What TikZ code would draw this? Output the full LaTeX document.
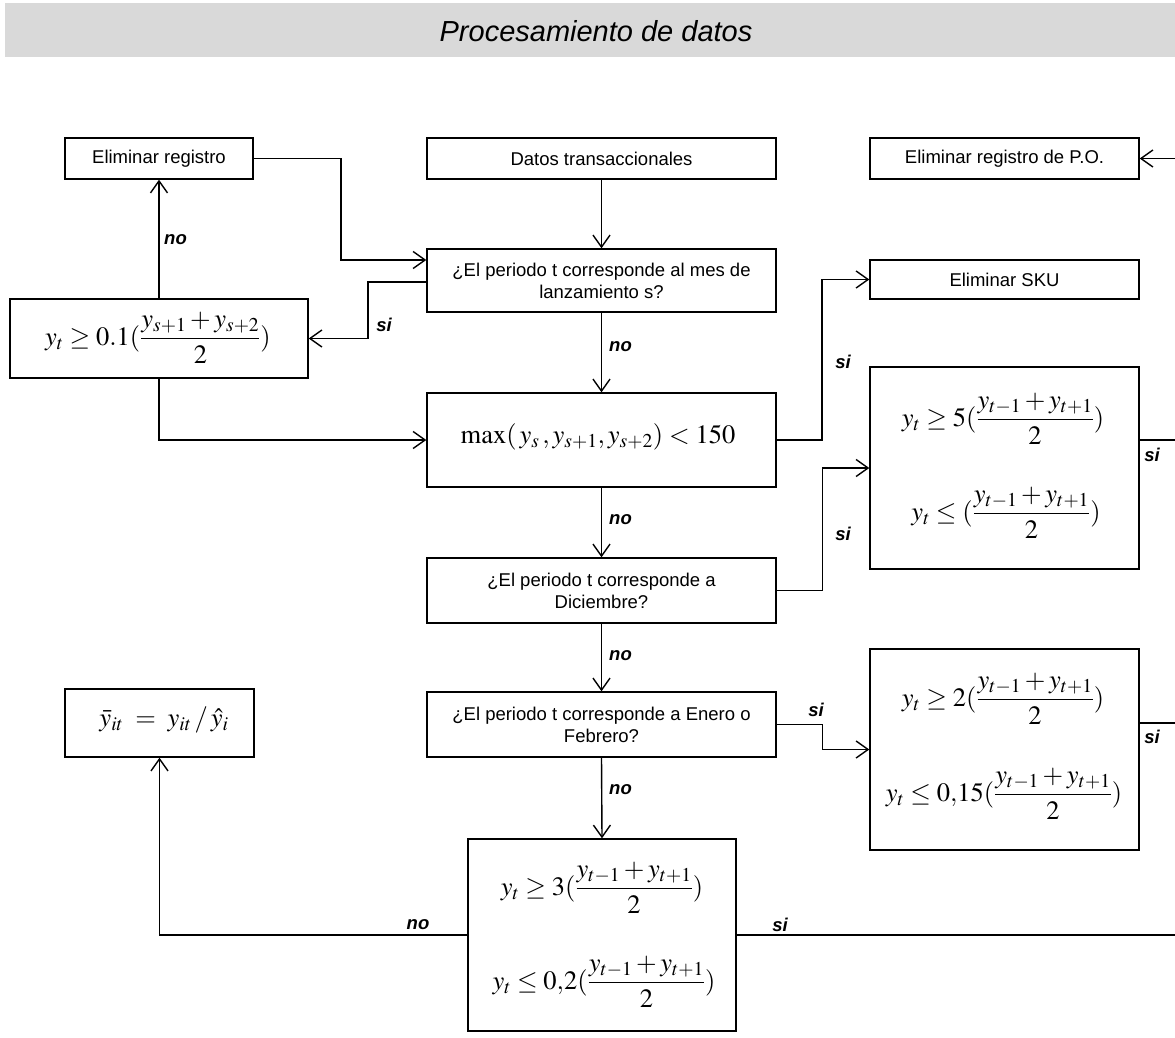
\documentclass[tikz,border=0pt]{standalone}
\usepackage{mathptmx}
\usepackage{amsmath}
\usepackage[no-math]{fontspec}
\setmainfont{Liberation Sans}
\usetikzlibrary{arrows.meta}
\definecolor{hdr}{RGB}{217,217,217}
\tikzset{
  box/.style={draw, line width=1.4pt, inner sep=0pt, align=center, font=\fontsize{18.5}{22}\selectfont},
  arr/.style={line width=1.4pt, -{Straight Barb[length=12pt,width=17pt,line width=1.4pt]}},
  ln/.style={line width=1.4pt},
  lab/.style={font=\fontsize{18.5}{20}\selectfont\bfseries\itshape, inner sep=0pt},
  mth/.style={font=\fontsize{26.5}{30}\selectfont, inner sep=0pt}
}
\begin{document}
\begin{tikzpicture}[x=1pt,y=-1pt]
\useasboundingbox (0,0) rectangle (1175,1038);
% header
\fill[hdr] (5,3) rectangle (1175,57);
\node[font=\fontsize{29}{30}\selectfont\itshape, inner sep=0pt] (title) at (596,31) {Procesamiento de datos};

% boxes
\node[box, minimum width=188pt, minimum height=41pt] (elim) at (159,158.5) {Eliminar registro};
\node[box, minimum width=349pt, minimum height=41pt] (datos) at (601.5,158.5) {Datos transaccionales};
\node[box, minimum width=269pt, minimum height=41pt] (po) at (1004.5,158.5) {Eliminar registro de P.O.};
\node[box, minimum width=349pt, minimum height=63pt] (dec1) at (601.5,280.5) {¿El periodo t corresponde al mes de\\lanzamiento s?};
\node[box, minimum width=298pt, minimum height=79pt] (f1) at (159,338.5) {};
\node[box, minimum width=269pt, minimum height=39pt] (sku) at (1004.5,279.5) {Eliminar SKU};
\node[box, minimum width=349pt, minimum height=94pt] (maxb) at (601.5,440) {};
\node[box, minimum width=269pt, minimum height=202pt] (b5) at (1004.5,468) {};
\node[box, minimum width=349pt, minimum height=65pt] (dic) at (601.5,590.5) {¿El periodo t corresponde a\\Diciembre?};
\node[box, minimum width=349pt, minimum height=65pt] (ene) at (601.5,724.5) {¿El periodo t corresponde a Enero o\\Febrero?};
\node[box, minimum width=269pt, minimum height=201pt] (b6) at (1004.5,749.5) {};
\node[box, minimum width=189pt, minimum height=68pt] (ybar) at (159.5,723) {};
\node[box, minimum width=268pt, minimum height=192pt] (b7) at (602,935) {};

% formulas
\node[mth] (f1m) at (158,338) {$y_t \ge 0.1(\dfrac{y_{s+1}+y_{s+2}}{2})$};
\node[mth] (maxm) at (598,437) {$\max(\,y_s\,, y_{s+1}, y_{s+2}) < 150$};
\node[mth] (b5a) at (1003,419) {$y_t \ge 5(\dfrac{y_{t-1}+y_{t+1}}{2})$};
\node[mth] (b5b) at (1006,513) {$y_t \le (\dfrac{y_{t-1}+y_{t+1}}{2})$};
\node[mth] (b6a) at (1003,699) {$y_t \ge 2(\dfrac{y_{t-1}+y_{t+1}}{2})$};
\node[mth] (b6b) at (1004,794) {$y_t \le 0{,}15(\dfrac{y_{t-1}+y_{t+1}}{2})$};
\node[mth] (b7a) at (602,888) {$y_t \ge 3(\dfrac{y_{t-1}+y_{t+1}}{2})$};
\node[mth] (b7b) at (604,982) {$y_t \le 0{,}2(\dfrac{y_{t-1}+y_{t+1}}{2})$};
\node[mth] (ybm) at (164,720) {$\bar{y}_{it} \;=\; y_{it}\,/\,\hat{y}_i$};

% connectors
\coordinate (k1) at (341,260);
\coordinate (k2) at (368,282);
\coordinate (k3) at (822,440);
\coordinate (e1) at (1175,158.5);
\coordinate (e2) at (1175,440);
\coordinate (e3) at (1175,723);

\draw[arr] (datos.south) -- (dec1.north);
\draw[arr] (elim.east) -| (k1) -- (dec1.west |- k1);
\draw[arr] (dec1.west |- k2) -- (k2) |- (f1.east);
\draw[arr] (f1.north) -- (elim.south);
\draw[arr] (f1.south) |- (maxb.west);
\draw[arr] (dec1.south) -- (maxb.north);
\draw[arr] (maxb.east) -- (k3) |- (sku.west);
\draw[arr] (maxb.south) -- (dic.north);
\draw[arr] (dic.east) -- ++(46,0) |- (b5.west);
\draw[arr] (dic.south) -- (ene.north);
\draw[arr] (ene.east) -- ++(46,0) |- (b6.west);
\draw[arr] (ene.south) -- (b7.north);
\draw[arr] (b7.west) -| (ybar.south);
\draw[arr] (e1) -- (po.east);
\draw[ln] (b5.east |- e2) -- (e2);
\draw[ln] (b6.east |- e3) -- (e3);
\draw[ln] (b7.east) -- (b7.east -| e2);

% labels
\node[lab, anchor=west] (l1) at (164,240) {no};
\node[lab] (l2) at (384,325) {si};
\node[lab, anchor=west] (l3) at (609,347) {no};
\node[lab] (l4) at (843,362) {si};
\node[lab, anchor=west] (l5) at (609,520) {no};
\node[lab] (l6) at (843,534) {si};
\node[lab, anchor=west] (l7) at (609,656) {no};
\node[lab] (l8) at (816,710) {si};
\node[lab, anchor=west] (l9) at (609,790) {no};
\node[lab] (l10) at (418,925) {no};
\node[lab] (l11) at (780,925) {si};
\node[lab] (l12) at (1152,455) {si};
\node[lab] (l13) at (1152,737) {si};
\end{tikzpicture}
\end{document}
